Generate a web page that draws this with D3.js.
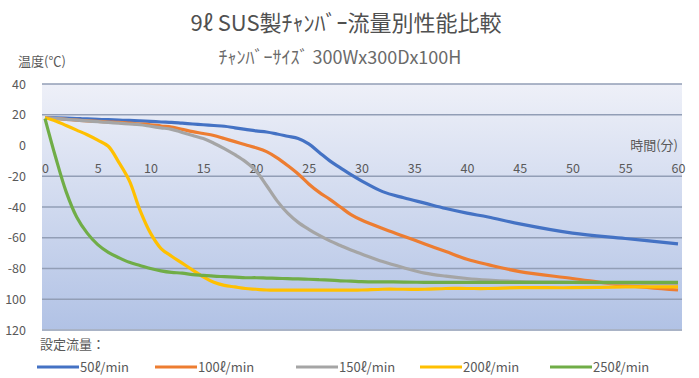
<!DOCTYPE html>
<html>
<head>
<meta charset="utf-8">
<script src="https://cdn.jsdelivr.net/npm/d3@7"></script>
<style>
  body { margin: 0; background: #fff; }
  text { font-family: "Noto Sans CJK JP", "Noto Sans", sans-serif; fill: #595959; }
</style>
</head>
<body>
<div id="chart"></div>
<script>
// minutes after start
const minutes = [0,1,2,3,4,5,6,7,8,9,10,11,12,13,14,15,16,17,18,19,20,
  21,22,23,24,25,26,27,28,29,30,32,34,36,38,40,42,45,50,55,60];

const flow50 = [18,18,17.8,17.5,17.3,17,16.8,16.5,16.3,16,15.7,15.3,15,14.5,14,13.5,13,12.5,11.5,10.5,9.5,
  8.8,7.5,6,4.5,1,-4.5,-10,-14.5,-19,-23,-30,-34,-37.5,-41,-44,-46.5,-51,-57,-60.5,-64];
const flow100 = [18,17.5,17,16.5,16,15.7,15.3,15,14.5,14,13.5,12.7,12,10.5,9,7.8,6.5,4.5,2.5,0.5,-1.5,
  -4,-8,-13,-18.5,-25,-30.5,-35,-40,-45,-48.5,-54,-59,-64,-69,-74,-77.5,-82,-86.5,-91,-94];
const flow150 = [18,17.5,17,16.5,16,15.5,15,14.5,14,13.5,12.5,11.5,10.5,8.5,6.5,4.5,1.5,-2,-6,-10.5,-16.5,
  -26,-36,-44,-50,-54.5,-58.5,-62,-65,-68,-70.5,-75.5,-79.5,-83,-85,-86.5,-87.5,-88.5,-89,-89.5,-90];
const flow200 = [18,16,13,10,7,3.5,-0.5,-11,-23,-42,-57,-67,-72,-76.5,-81,-85.5,-89,-91,-92,-93,-93.5,
  -94,-94,-94,-94,-94,-94,-94,-94,-94,-94,-93.5,-93.5,-93.5,-93,-93,-93,-92.5,-92.5,-92,-92];
const flow250 = [17.5,-7.5,-30,-46.5,-57,-64.5,-69.5,-73,-76,-78,-80,-81.5,-82.5,-83,-84,-84.5,-85,-85.3,-85.6,-86,-86,
  -86.2,-86.4,-86.6,-86.8,-87,-87.3,-87.6,-88,-88.2,-88.5,-88.7,-88.8,-89,-89,-89,-89,-89,-89,-89,-89];

const seriesNames = ['50ℓ/min', '100ℓ/min', '150ℓ/min', '200ℓ/min', '250ℓ/min'];
const seriesValues = [flow50, flow100, flow150, flow200, flow250];
const colors = ['#4472C4', '#ED7D31', '#A5A5A5', '#FFC000', '#70AD47'];

const xTicks = d3.range(0, 61, 5);
const yTicks = d3.range(-120, 41, 20);
const gridValues = [40, 20, -20, -40, -60, -80, -100];

const width = 699, height = 378;
const plot = { left: 42, right: 682, top: 84, bottom: 330 };

const svg = d3.select('#chart').append('svg')
  .attr('width', width)
  .attr('height', height);

const x = d3.scaleLinear().domain([0, 60]).range([45, 678]);
const y = d3.scaleLinear().domain([-120, 40]).range([plot.bottom, plot.top]);

// plot area background
const grad = svg.append('defs').append('linearGradient')
  .attr('id', 'bg').attr('x1', 0).attr('y1', 0).attr('x2', 0).attr('y2', 1);
grad.append('stop').attr('offset', '0%').attr('stop-color', '#eef0f8');
grad.append('stop').attr('offset', '100%').attr('stop-color', '#b1c2e5');

svg.append('rect')
  .attr('x', plot.left).attr('y', plot.top)
  .attr('width', plot.right - plot.left).attr('height', plot.bottom - plot.top)
  .attr('fill', 'url(#bg)');

svg.append('g')
  .selectAll('line')
  .data(gridValues)
  .enter().append('line')
  .attr('x1', plot.left).attr('x2', plot.right)
  .attr('y1', d => y(d)).attr('y2', d => y(d))
  .attr('stroke', '#929eb6')
  .attr('stroke-width', 1.4);

svg.append('line')
  .attr('x1', plot.left).attr('x2', plot.right)
  .attr('y1', plot.bottom).attr('y2', plot.bottom)
  .attr('stroke', '#a9b3c6').attr('stroke-width', 2);

// axes
const yAxis = svg.append('g')
  .attr('transform', `translate(${plot.left},0)`)
  .call(d3.axisLeft(y).tickValues(yTicks).tickSize(0).tickPadding(16)
    .tickFormat(d => d <= -100 ? String(-d) : String(d)));
yAxis.select('.domain').remove();
yAxis.selectAll('text').style('font-size', '12.5px').style('fill', '#595959');

const xAxis = svg.append('g')
  .attr('transform', `translate(0,${y(-20)})`)
  .call(d3.axisTop(x).tickValues(xTicks).tickSize(0).tickPadding(3));
xAxis.select('.domain').remove();
xAxis.selectAll('text').style('font-size', '12.5px').style('fill', '#595959');

// series lines
const line = d3.line()
  .x((d, i) => x(minutes[i]))
  .y(d => y(d))
  .curve(d3.curveCatmullRom.alpha(0.5));

svg.append('g')
  .selectAll('path')
  .data(seriesValues)
  .enter().append('path')
  .attr('d', line)
  .attr('fill', 'none')
  .attr('stroke', (d, i) => colors[i])
  .attr('stroke-width', 3.2)
  .attr('stroke-linejoin', 'round');

// titles
svg.append('text')
  .attr('x', 346).attr('y', 31)
  .attr('text-anchor', 'middle')
  .style('font-size', '22px')
  .style('fill', '#505050')
  .text('9ℓ SUS製ﾁｬﾝﾊﾞｰ流量別性能比較');

svg.append('text')
  .attr('x', 340).attr('y', 64)
  .attr('text-anchor', 'middle')
  .style('font-size', '18px')
  .style('fill', '#6a6a6a')
  .text('ﾁｬﾝﾊﾞｰｻｲｽﾞ 300Wx300Dx100H');

svg.append('text')
  .attr('x', 18).attr('y', 66)
  .style('font-size', '13px')
  .text('温度(℃)');

svg.append('text')
  .attr('x', 678).attr('y', 150)
  .attr('text-anchor', 'end')
  .style('font-size', '13px')
  .text('時間(分)');

// legend
svg.append('text')
  .attr('x', 40).attr('y', 349)
  .style('font-size', '13px')
  .text('設定流量：');

const legendX = [37, 155, 296, 420, 550];
const legend = svg.append('g')
  .selectAll('g')
  .data(seriesNames)
  .enter().append('g')
  .attr('transform', (d, i) => `translate(${legendX[i]},367)`);

legend.append('line')
  .attr('x1', 0).attr('x2', 42)
  .attr('stroke', (d, i) => colors[i])
  .attr('stroke-width', 3);

legend.append('text')
  .attr('x', 43).attr('dy', '0.35em')
  .style('font-size', '13px')
  .text(d => d);
</script>
</body>
</html>
